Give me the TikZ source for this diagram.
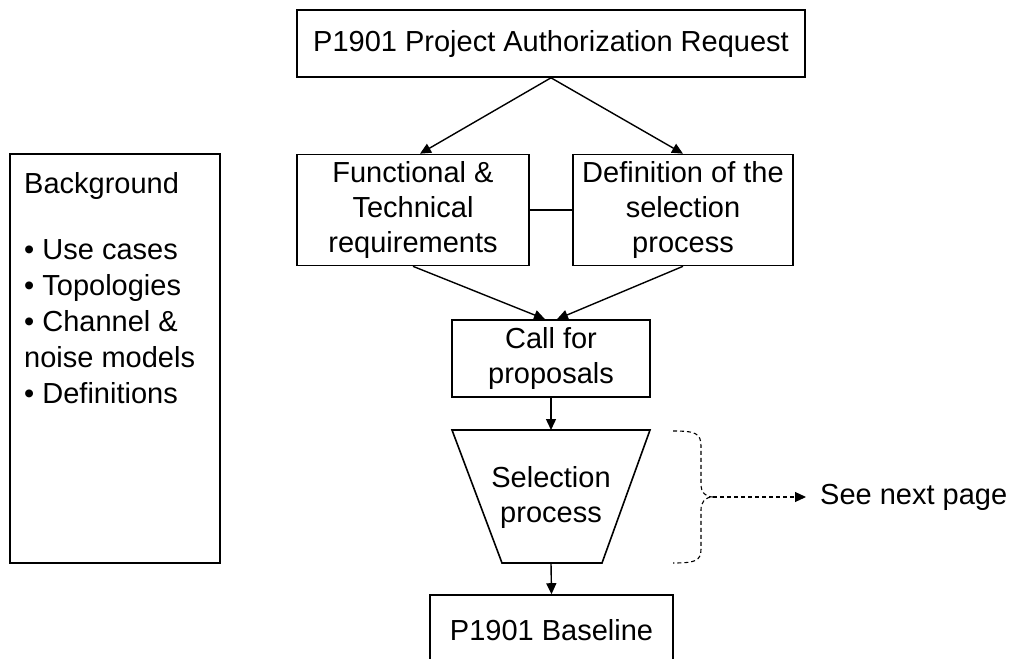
\documentclass[tikz,border=0pt]{standalone}
\usepackage{fontspec}
\setmainfont{Liberation Sans}
\usetikzlibrary{arrows.meta}
\begin{document}
\begin{tikzpicture}[x=1pt,y=-1pt,
  txt/.style={inner sep=0pt, align=center, font=\fontsize{29}{35}\selectfont},
  box/.style={txt, draw, line width=1.6pt},
  arr/.style={line width=1.4pt, -{Triangle[length=11pt,width=10pt]}},
  dashline/.style={line width=1.1pt, dash pattern=on 4pt off 3pt}]
\useasboundingbox (0,0) rectangle (1010,659);
\node[box, minimum width=508pt, minimum height=67pt] (par) at (551,43.5) {P1901 Project Authorization Request};
\node[box, minimum width=232pt, minimum height=111pt] (func) at (413,210) {Functional \&\\Technical\\requirements};
\node[box, minimum width=220pt, minimum height=111pt] (defn) at (683,210) {Definition of the\\selection\\process};
\node[box, minimum width=198pt, minimum height=77pt] (call) at (551,358.5) {Call for\\proposals};
\draw[line width=1.6pt] (452,430) -- (650,430) -- (602,563) -- (502,563) -- cycle;
\node[txt] (sel) at (551,497) {Selection\\process};
\coordinate (seltop) at (551,430);
\coordinate (selbot) at (551,563);
\node[box, minimum width=243pt, minimum height=70pt] (base) at (551.5,630) {P1901 Baseline};
\node[box, minimum width=210pt, minimum height=409pt] (bg) at (115,358.5) {};
\node[txt, align=left, anchor=north west, font=\fontsize{29}{36}\selectfont] (bgtext) at (24,172) {Background\\[30pt]• Use cases\\• Topologies\\• Channel \&\\noise models\\• Definitions};
\draw[arr] (par.south) -- ([xshift=7pt]func.north);
\draw[arr] (par.south) -- (defn.north);
\draw[line width=1.4pt] (func.east) -- (defn.west);
\draw[arr] (func.south) -- ([xshift=-6pt]call.north);
\draw[arr] (defn.south) -- ([xshift=6pt]call.north);
\draw[arr] (call.south) -- (seltop);
\draw[arr] (selbot) -- (base.north);
\coordinate (btip) at (713,497);
\coordinate (atip) at (806,497);
\draw[dashline] (673,431) .. controls (695,431) and (701,433) .. (701,446) -- (701,484) .. controls (701,492) and (705,497) .. (btip)
  .. controls (705,497) and (701,502) .. (701,510) -- (701,549) .. controls (701,561) and (695,563) .. (673,563);
\node[txt, anchor=west] (see) at (820,497) {See next page};
\draw[dashline, -{Triangle[length=11pt,width=10pt]}] (btip) -- (atip);
\end{tikzpicture}
\end{document}
